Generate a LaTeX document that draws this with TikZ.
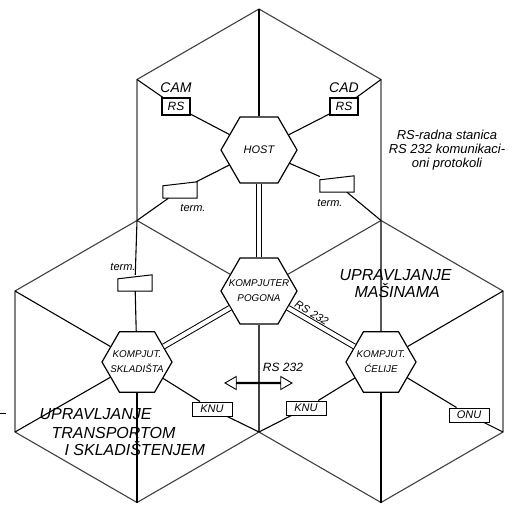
\documentclass[tikz,border=0pt]{standalone}
\usepackage{fontspec}
\setmainfont{Liberation Sans}
\usetikzlibrary{positioning,shapes.geometric,shapes.arrows}

\begin{document}
\begin{tikzpicture}[x=1pt, y=-1pt,
      ivica/.style={line width=1.1pt, black!75},
      veza/.style={line width=1.1pt},
      dvojna/.style={double, double distance=4pt, line width=1pt},
      racunar/.style={regular polygon, regular polygon sides=6, draw, fill=white, line width=1.2pt,
        inner sep=0pt},
      racunartekst/.style={align=center, inner sep=0pt, font=\itshape\fontsize{9.8}{15}\selectfont},
      stanica/.style={draw, line width=1.1pt, minimum width=28pt, minimum height=17pt, inner sep=1pt,
        font=\itshape\fontsize{12}{12}\selectfont},
      jedinica/.style={draw, line width=1pt, minimum width=40pt, minimum height=14pt, inner sep=1pt,
        font=\itshape\fontsize{11}{11}\selectfont},
      terminal/.style={minimum width=34pt, minimum height=16pt, inner sep=0pt},
      oznaka/.style={font=\itshape\fontsize{11}{11}\selectfont},
      naziv/.style={font=\itshape\fontsize{14}{14}\selectfont},
      oblast/.style={anchor=west, font=\itshape\fontsize{16}{16}\selectfont}]
    \useasboundingbox (0,0) rectangle (509,504);
    % temena
    \coordinate (a) at (259,9);
    \coordinate (b) at (137,79.5);
    \coordinate (c) at (137,220.5);
    \coordinate (d) at (15,291);
    \coordinate (e) at (15,432);
    \coordinate (f) at (137,502.5);
    \coordinate (g) at (259,432);
    \coordinate (h) at (381,502.5);
    \coordinate (i) at (503,432);
    \coordinate (j) at (503,291);
    \coordinate (k) at (381,220.5);
    \coordinate (l) at (381,79.5);
    % racunari
    \node[racunar, minimum size=76pt, label={[racunartekst, font=\itshape\fontsize{11}{13}\selectfont]center:HOST}] (host) at (259,150) {};
    \node[racunar, minimum size=76pt, label={[racunartekst]center:KOMPJUTER\\POGONA}] (pogona) at (259,291) {};
    \node[racunar, minimum size=70pt, label={[racunartekst]center:KOMPJUT.\\SKLADIŠTA}] (skladiste) at (137,362) {};
    \node[racunar, minimum size=70pt, label={[racunartekst]center:KOMPJUT.\\ĆELIJE}] (celije) at (381,362) {};
    % stanice i terminali
    \node[stanica] (cam) at (176,106.5) {RS};
    \node[naziv, above=1pt of cam] (camtekst) {CAM};
    \node[stanica] (cad) at (344,106.5) {RS};
    \node[naziv, above=1pt of cad] (cadtekst) {CAD};
    \node[terminal] (termL) at (180,190) {};
    \node[terminal] (termD) at (337,184) {};
    \node[terminal] (termS) at (135,283) {};
    \node[oznaka] (termLtekst) at (193,208) {term.};
    \node[oznaka] (termDtekst) at (330,203) {term.};
    \node[oznaka] (termStekst) at (123,267) {term.};
    \foreach \t in {termL,termD,termS}
      \draw[line width=1pt] (\t.south west) -- (\t.south east) -- (\t.north east)
        -- ([yshift=-4pt]\t.north west) -- cycle;
    \node[jedinica] (knuL) at (212,409) {KNU};
    \node[jedinica] (knuD) at (306,408) {KNU};
    \node[jedinica] (onu) at (469,415) {ONU};
    % ivice
    \draw[ivica] (a) -- (b) -- (c) -- (d) -- (e) -- (f) -- (g) -- (h) -- (i) -- (j) -- (k) -- (l) -- cycle;
    \draw[ivica] (c) -- (pogona) -- (k);
    \draw[ivica] (pogona) -- (g);
    % veze
    \draw[veza] (host) -- (a);
    \draw[veza] (b) -- (cam) -- (host) -- (cad) -- (l);
    \draw[veza] (c) -- (termL) -- (host) -- (termD) -- (k);
    \draw[dvojna] (host) -- (pogona);
    \draw[veza] (d) -- (skladiste) -- (e);
    \draw[veza] (skladiste) -- (f);
    \draw[veza] (c) -- (termS) -- (skladiste);
    \draw[veza] (skladiste) -- (knuL) -- (g);
    \draw[dvojna] (pogona) -- (skladiste);
    \draw[veza] (k) -- (celije) -- (j);
    \draw[veza] (celije) -- (h);
    \draw[veza] (g) -- (knuD) -- (celije) -- (onu) -- (i);
    \draw[dvojna] (pogona) -- (celije) node[oznaka, pos=0.3, sloped, above=0pt] {RS 232};
    % RS 232 izmedju celija
    \node[draw, double arrow, line width=0.9pt, minimum height=67pt, minimum width=13pt,
      double arrow head extend=4.5pt, double arrow tip angle=60, inner sep=0pt] (rsstrelica) at (258.5,383) {};
    \node[oznaka, font=\itshape\fontsize{12}{12}\selectfont] (rstekst) at (283,367) {RS 232};
    % tekstovi
    \node[naziv, font=\itshape\fontsize{13}{14}\selectfont, align=center] (legenda) at (447,150)
      {RS-radna stanica\\RS 232 komunikaci-\\oni protokoli};
    \node[oblast] (upr1) at (36,414) {UPRAVLJANJE};
    \node[oblast] (upr2) at (48,432.5) {TRANSPORTOM};
    \node[oblast] (upr3) at (61,449) {I SKLADIŠTENJEM};
    \node[oblast] (upr4) at (336,275) {UPRAVLJANJE};
    \node[oblast] (upr5) at (351,291) {MAŠINAMA};
    \draw[line width=1pt] (0,413) -- (6,413);
  \end{tikzpicture}
\end{document}
